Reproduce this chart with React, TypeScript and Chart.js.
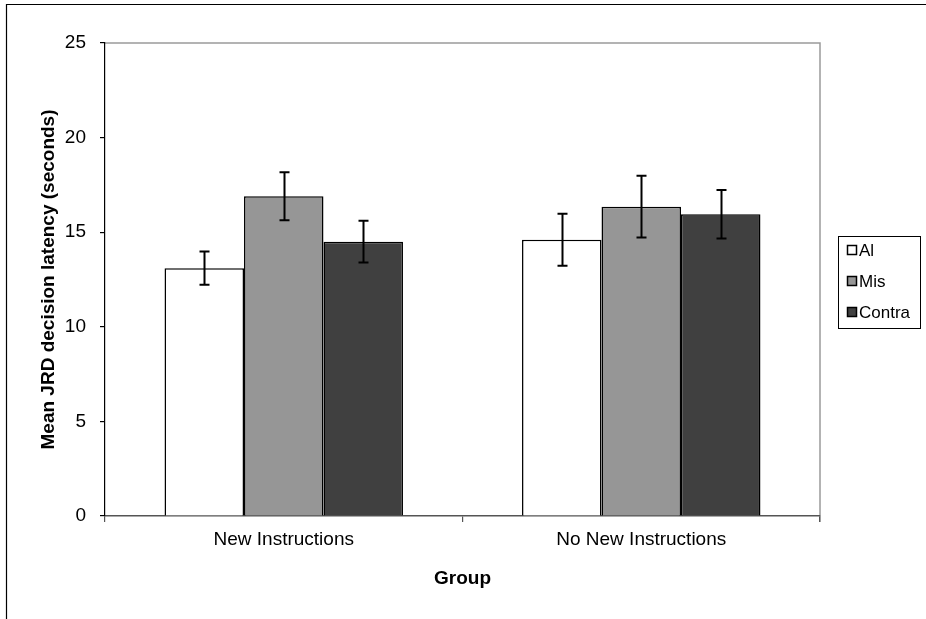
import React, { useEffect, useRef } from "react";
import { Chart, registerables } from "chart.js";

Chart.register(...registerables);

const categories = ["New Instructions", "No New Instructions"];
const seriesNames = ["Al", "Mis", "Contra"];
const alValues = [13.1, 14.6];
const misValues = [16.9, 16.35];
const contraValues = [14.5, 15.95];
const alErrors = [0.88, 1.37];
const misErrors = [1.27, 1.63];
const contraErrors = [1.1, 1.28];
const yMin = 0;
const yMax = 25;
const yStep = 5;
const xTitle = "Group";
const yTitle = "Mean JRD decision latency (seconds)";

const FONT = "'Liberation Sans', Arial, sans-serif";
const seriesColors = ["#ffffff", "#969696", "#404040"];
const errorSets = [alErrors, misErrors, contraErrors];

const framePlugin = {
  id: "frame",
  beforeDraw(chart: any) {
    const ctx = chart.ctx;
    ctx.save();
    ctx.fillStyle = "#ffffff";
    ctx.fillRect(0, 0, chart.width, chart.height);
    ctx.strokeStyle = "#000000";
    ctx.lineWidth = 1.2;
    ctx.beginPath();
    ctx.moveTo(6.5, chart.height);
    ctx.lineTo(6.5, 4.5);
    ctx.lineTo(chart.width, 4.5);
    ctx.stroke();
    const a = chart.chartArea;
    ctx.strokeStyle = "#9a9a9a";
    ctx.lineWidth = 1.5;
    ctx.beginPath();
    ctx.moveTo(a.left, a.top);
    ctx.lineTo(a.right, a.top);
    ctx.lineTo(a.right, a.bottom + 6);
    ctx.stroke();
    ctx.restore();
  },
};

const errorBarPlugin = {
  id: "errorBars",
  afterDatasetsDraw(chart: any) {
    const ctx = chart.ctx;
    const yScale = chart.scales.y;
    ctx.save();
    ctx.strokeStyle = "#000000";
    ctx.lineWidth = 2;
    chart.data.datasets.forEach((ds: any, i: number) => {
      const meta = chart.getDatasetMeta(i);
      const errs = errorSets[i];
      meta.data.forEach((el: any, j: number) => {
        const v = ds.data[j];
        const e = errs[j];
        const x = Math.round(el.x) + 0.5;
        const yT = yScale.getPixelForValue(v + e);
        const yB = yScale.getPixelForValue(v - e);
        ctx.beginPath();
        ctx.moveTo(x, yT);
        ctx.lineTo(x, yB);
        ctx.moveTo(x - 5, yT);
        ctx.lineTo(x + 5, yT);
        ctx.moveTo(x - 5, yB);
        ctx.lineTo(x + 5, yB);
        ctx.stroke();
      });
    });
    ctx.restore();
  },
};

const legendPlugin = {
  id: "boxLegend",
  afterDraw(chart: any) {
    const ctx = chart.ctx;
    const left = 838;
    const right = 920;
    const rowGap = 31;
    const n = chart.data.datasets.length;
    const midY = (chart.chartArea.top + chart.chartArea.bottom) / 2 + 1;
    const firstY = midY - ((n - 1) * rowGap) / 2;
    const top = firstY - 14;
    const bottom = firstY + (n - 1) * rowGap + 16;
    ctx.save();
    ctx.fillStyle = "#ffffff";
    ctx.fillRect(left, top, right - left, bottom - top);
    ctx.strokeStyle = "#000000";
    ctx.lineWidth = 1;
    ctx.strokeRect(left + 0.5, Math.round(top) + 0.5, right - left, Math.round(bottom - top));
    ctx.font = `17px ${FONT}`;
    ctx.textBaseline = "middle";
    ctx.textAlign = "left";
    chart.data.datasets.forEach((ds: any, i: number) => {
      const y = Math.round(firstY + i * rowGap);
      ctx.fillStyle = ds.backgroundColor;
      ctx.fillRect(847, y - 5, 10, 10);
      ctx.strokeStyle = "#000000";
      ctx.lineWidth = 1.5;
      ctx.strokeRect(847.5, y - 4.5, 9, 9);
      ctx.fillStyle = "#000000";
      ctx.fillText(ds.label, 859, y + 1);
    });
    ctx.restore();
  },
};

export default function App() {
  const ref = useRef<HTMLCanvasElement | null>(null);

  useEffect(() => {
    if (!ref.current) return;
    const seriesValues = [alValues, misValues, contraValues];
    const chart = new Chart(ref.current, {
      type: "bar",
      data: {
        labels: categories,
        datasets: seriesNames.map((name, i) => ({
          label: name,
          data: seriesValues[i],
          backgroundColor: seriesColors[i],
          borderColor: "#000000",
          borderWidth: 1.5,
          categoryPercentage: 0.667,
          barPercentage: 1.0,
        })),
      },
      options: {
        responsive: false,
        animation: false,
        devicePixelRatio: 1,
        layout: { padding: { top: 43, right: 106, bottom: 0, left: 0 } },
        plugins: {
          legend: { display: false },
          tooltip: { enabled: false },
        },
        scales: {
          x: {
            type: "category",
            offset: true,
            grid: {
              display: true,
              offset: true,
              drawOnChartArea: false,
              drawTicks: true,
              tickLength: 6,
              color: "#555555",
              lineWidth: 1.2,
            },
            border: { display: true, color: "#555555", width: 1.5 },
            ticks: {
              color: "#000000",
              font: { family: FONT, size: 19 },
              padding: 6,
            },
            title: {
              display: true,
              text: xTitle,
              color: "#000000",
              font: { family: FONT, size: 19, weight: "bold" },
              padding: { top: 0, bottom: 29 },
            },
            afterFit(scale: any) {
              scale.height = 103;
            },
          },
          y: {
            min: yMin,
            max: yMax,
            grid: {
              display: true,
              drawOnChartArea: false,
              drawTicks: true,
              tickLength: 5,
              color: "#000000",
              lineWidth: 1.2,
            },
            border: { display: true, color: "#000000", width: 1.2 },
            ticks: {
              stepSize: yStep,
              color: "#000000",
              font: { family: FONT, size: 19 },
              padding: 14,
            },
            title: {
              display: true,
              text: yTitle,
              color: "#000000",
              font: { family: FONT, size: 19, weight: "bold" },
              padding: { top: 37, bottom: 0 },
            },
            afterFit(scale: any) {
              scale.width = 105;
            },
          },
        },
      },
      plugins: [framePlugin, errorBarPlugin, legendPlugin],
    } as any);
    return () => chart.destroy();
  }, []);

  return (
    <div style={{ position: "absolute", left: 0, top: 0, width: 926, height: 619, background: "#fff" }}>
      <canvas ref={ref} width={926} height={619} style={{ display: "block", width: 926, height: 619 }} />
    </div>
  );
}
